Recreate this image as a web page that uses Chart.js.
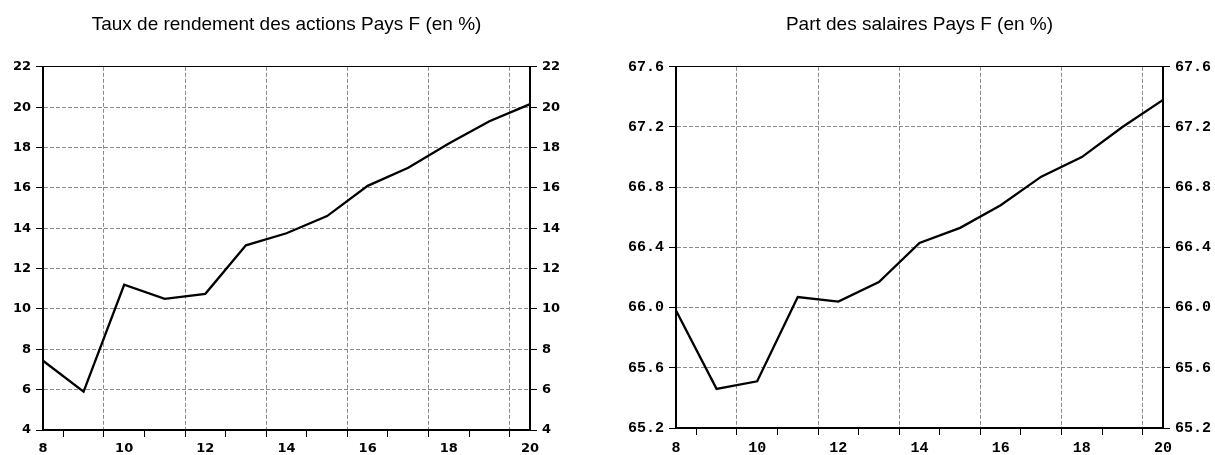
<!DOCTYPE html>
<html>
<head>
<meta charset="utf-8">
<script src="https://cdn.jsdelivr.net/npm/chart.js@4"></script>
<style>
  body { margin: 0; background: #fff; }
  #left { position: absolute; left: 0; top: 0; }
  #right { position: absolute; left: 624px; top: 0; }
</style>
</head>
<body>
<canvas id="left" width="573" height="455"></canvas>
<canvas id="right" width="591" height="455"></canvas>
<script>
// data
const years = [8, 9, 10, 11, 12, 13, 14, 15, 16, 17, 18, 19, 20];
const rendement = [7.43, 5.9, 11.2, 10.5, 10.75, 13.15, 13.75, 14.6, 16.1, 17.0, 18.2, 19.3, 20.15];
const salaires = [65.98, 65.46, 65.51, 66.07, 66.04, 66.17, 66.43, 66.53, 66.68, 66.87, 67.0, 67.2, 67.38];

const xLabels = [8, 10, 12, 14, 16, 18, 20];
const rendementTicks = [4, 6, 8, 10, 12, 14, 16, 18, 20, 22];
const salairesTicks = [65.2, 65.6, 66.0, 66.4, 66.8, 67.2, 67.6];

const gridGray = '#8a8a8a';
const none = 'rgba(0,0,0,0)';

// tick marks sit between years, grid lines on every other one
const boundaries = years.slice(0, -1).map(y => y + 0.5);
const xTicks = xLabels.concat(boundaries).sort((a, b) => a - b);
const isBoundary = v => boundaries.includes(v);
const isMajor = v => isBoundary(v) && (v - 0.5) % 2 === 1;

function makeChart(id, title, values, yTicks, tickFont, yWidth, xHeight, fmt) {
    const yMin = yTicks[0];
    const yMax = yTicks[yTicks.length - 1];
    const yAxis = (position, onChart) => ({
        position: position,
        min: yMin,
        max: yMax,
        afterBuildTicks: s => { s.ticks = yTicks.map(v => ({ value: v })); },
        afterFit: s => { s.width = yWidth; },
        ticks: { color: '#000', font: tickFont, padding: 5, callback: v => fmt(v) },
        grid: {
            drawOnChartArea: onChart,
            color: ctx => (ctx.tick && ctx.tick.value > yMin && ctx.tick.value < yMax) ? gridGray : none,
            tickColor: '#000',
            tickLength: 7
        },
        border: { color: '#000', width: 2, dash: [4, 2], z: 1 }
    });

    return new Chart(document.getElementById(id).getContext('2d'), {
        type: 'line',
        data: {
            datasets: [{
                data: years.map((x, i) => ({ x: x, y: values[i] })),
                borderColor: '#000',
                borderWidth: 2.3,
                pointRadius: 0,
                tension: 0,
                fill: false
            }]
        },
        options: {
            responsive: false,
            animation: false,
            events: [],
            plugins: {
                legend: { display: false },
                tooltip: { enabled: false },
                title: {
                    display: true,
                    text: title,
                    color: '#000',
                    font: { family: 'Liberation Sans', size: 19, weight: 'normal' },
                    padding: { top: 13, bottom: 31 }
                }
            },
            scales: {
                x: {
                    type: 'linear',
                    position: 'bottom',
                    min: years[0],
                    max: years[years.length - 1],
                    afterBuildTicks: s => { s.ticks = xTicks.map(v => ({ value: v })); },
                    afterFit: s => { s.height = xHeight; },
                    ticks: {
                        autoSkip: false,
                        maxRotation: 0,
                        padding: 4,
                        color: '#000',
                        font: tickFont,
                        callback: v => xLabels.includes(v) ? String(v) : ''
                    },
                    grid: {
                        color: ctx => (ctx.tick && isMajor(ctx.tick.value)) ? gridGray : none,
                        tickColor: ctx => (ctx.tick && isBoundary(ctx.tick.value)) ? '#000' : none,
                        tickLength: 7
                    },
                    border: { color: '#000', width: 2, dash: [4, 2], z: 1 }
                },
                xTop: {
                    type: 'linear',
                    position: 'top',
                    min: years[0],
                    max: years[years.length - 1],
                    afterFit: s => { s.height = 0; },
                    ticks: { display: false },
                    grid: { drawOnChartArea: false, drawTicks: false },
                    border: { color: '#000', width: 1, z: 1 }
                },
                y: yAxis('left', true),
                y2: yAxis('right', false)
            }
        }
    });
}

makeChart('left', 'Taux de rendement des actions Pays F (en %)', rendement, rendementTicks,
    { family: 'DejaVu Sans', size: 13, weight: 'bold' }, 43, 25, v => String(v));

makeChart('right', 'Part des salaires Pays F (en %)', salaires, salairesTicks,
    { family: 'Liberation Mono', size: 15, weight: 'bold' }, 52, 27, v => v.toFixed(1));
</script>
</body>
</html>
